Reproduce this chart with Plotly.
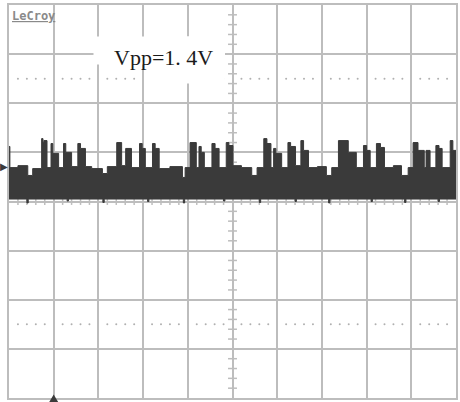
import plotly.graph_objects as go


# --------------------------------------------------
# Data (time and volts in divisions, 1 V/div)
# --------------------------------------------------
upper_t = [0.00, 0.02, 0.20, 0.42, 0.53, 0.73, 0.76, 0.78, 0.85, 0.94, 0.98,
           1.11, 1.22, 1.27, 1.40, 1.54, 1.60, 1.71, 1.85, 2.09, 2.20, 2.41,
           2.52, 2.61, 2.74, 2.92, 2.98, 3.05, 3.21, 3.27, 3.36, 3.60, 3.88,
           3.94, 4.05, 4.19, 4.25, 4.30, 4.37, 4.54, 4.61, 4.70, 4.86, 4.92,
           5.01, 5.20, 5.43, 5.55, 5.70, 5.77, 5.86, 5.92, 5.97, 6.10, 6.24,
           6.30, 6.41, 6.53, 6.59, 6.70, 6.90, 7.10, 7.22, 7.37, 7.59, 7.77,
           7.93, 8.00, 8.08, 8.22, 8.31, 8.40, 8.60, 8.78, 8.93, 9.04, 9.15,
           9.29, 9.33, 9.42, 9.55, 9.62, 9.69, 9.87, 9.93, 10.0]
upper_v = [1.12, 0.69, 0.73, 0.53, 0.67, 1.28, 1.20, 1.24, 0.69, 1.18, 0.98,
           0.69, 1.18, 1.00, 0.71, 1.18, 1.08, 0.71, 0.67, 0.57, 0.71, 1.20,
           0.73, 1.08, 0.69, 1.18, 1.08, 0.69, 1.18, 1.08, 0.67, 0.71, 0.49,
           0.69, 1.20, 0.69, 1.12, 1.00, 0.69, 1.18, 1.08, 0.69, 1.20, 1.14,
           0.73, 0.69, 0.53, 0.69, 1.28, 1.18, 0.69, 1.08, 0.98, 0.69, 1.20,
           1.12, 0.73, 1.24, 1.04, 0.69, 0.71, 0.53, 0.69, 1.24, 1.00, 0.69,
           1.14, 1.04, 0.69, 1.18, 1.10, 0.69, 0.73, 0.53, 0.69, 1.20, 1.04,
           0.69, 1.04, 0.69, 1.14, 1.08, 0.69, 1.24, 1.04, 1.04]

lower_t = [0.00, 0.40, 0.43, 1.30, 1.33, 2.10, 2.13, 3.10, 3.13, 3.90, 3.93,
           4.80, 4.83, 5.60, 5.63, 6.40, 6.43, 7.15, 7.18, 8.10, 8.13, 8.85,
           8.88, 9.60, 9.63, 10.0]
lower_v = [0.05, -0.03, 0.05, 0.01, 0.05, -0.02, 0.05, 0.00, 0.05, -0.03, 0.05,
           0.01, 0.05, -0.02, 0.05, 0.00, 0.05, -0.03, 0.05, 0.00, 0.05, -0.02,
           0.05, 0.00, 0.05, 0.05]

trigger_level = 0.71
trigger_time = 1.0
vpp_label = "Vpp=1. 4V"

GRID = "#bdbdbd"
TRACE = "#3a3a3a"

fig = go.Figure()

# --------------------------------------------------
# Graticule: dotted lines at +/-2.5 div and centre-line minor ticks
# --------------------------------------------------
dot_x, dot_y = [], []
for level in (2.5, -2.5):
    for k in range(10):
        for j in range(1, 5):
            dot_x.append(k + 0.2 * j)
            dot_y.append(level)
fig.add_trace(go.Scatter(x=dot_x, y=dot_y, mode="markers",
                         marker=dict(size=2, color="#b0b0b0"),
                         hoverinfo="skip", showlegend=False))

tick_x, tick_y = [], []
for m in range(-20, 21):
    if m % 5:
        tick_x += [4.9, 5.1, None]
        tick_y += [m * 0.2, m * 0.2, None]
for m in range(1, 50):
    if m % 5:
        tick_x += [m * 0.2, m * 0.2, None]
        tick_y += [-0.07, 0.07, None]
fig.add_trace(go.Scatter(x=tick_x, y=tick_y, mode="lines",
                         line=dict(color=GRID, width=1.5),
                         hoverinfo="skip", showlegend=False))

# --------------------------------------------------
# Signal band
# --------------------------------------------------
fig.add_trace(go.Scatter(x=lower_t, y=lower_v, mode="lines",
                         line=dict(color=TRACE, width=1, shape="hv"),
                         showlegend=False))
fig.add_trace(go.Scatter(x=upper_t, y=upper_v, mode="lines",
                         line=dict(color=TRACE, width=1, shape="hv"),
                         fill="tonexty", fillcolor=TRACE,
                         showlegend=False))

# markers on the edges of the screen
fig.add_annotation(x=0, y=trigger_level, text="▶", showarrow=False,
                   xanchor="right", xshift=1,
                   font=dict(family="DejaVu Sans", size=10, color=TRACE))
# time marker, only its tip shows under the bottom edge
tx = trigger_time
fig.add_shape(type="path", xref="x", yref="paper",
              path=f"M {tx - 0.13} -0.016 L {tx} 0.009 L {tx + 0.13} -0.016 Z",
              fillcolor=TRACE, line=dict(width=0), layer="above")

# white box behind the label
for x0, y1 in ((1.89, 2.79), (3.02, 2.40)):
    fig.add_shape(type="rect", x0=x0, x1=4.83, y0=y1, y1=3.36,
                  fillcolor="white", line=dict(width=0), layer="above")

fig.add_annotation(x=3.45, y=2.93, text=vpp_label, showarrow=False,
                   font=dict(family="Liberation Serif", size=22, color="#1a1a1a"))
fig.add_annotation(x=0.03, y=3.77, text="<b><u>LeCroy</u></b>", showarrow=False,
                   xanchor="left",
                   font=dict(family="DejaVu Sans Mono", size=12, color="#8a8a8a"))

fig.update_xaxes(range=[0, 10], dtick=1, showgrid=True, gridcolor=GRID,
                 gridwidth=1.5, zeroline=False, showticklabels=False,
                 showline=True, mirror=True, linecolor=GRID, linewidth=1.5)
fig.update_yaxes(range=[-4, 4], dtick=1, showgrid=True, gridcolor=GRID,
                 gridwidth=1.5, zeroline=False, showticklabels=False,
                 showline=True, mirror=True, linecolor=GRID, linewidth=1.5)

fig.update_layout(
    width=460,
    height=402,
    margin=dict(l=9, r=2, t=5, b=4),
    paper_bgcolor="white",
    plot_bgcolor="white",
)

fig.write_html("out.html", config={"displayModeBar": False},
               post_script="document.body.style.margin='0';")
